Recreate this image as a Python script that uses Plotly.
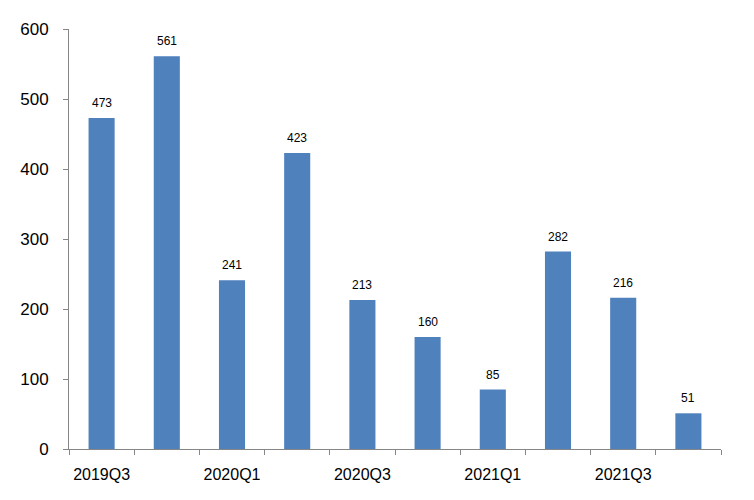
import plotly.graph_objects as go

categories = ["2019Q3", "2019Q4", "2020Q1", "2020Q2", "2020Q3",
              "2020Q4", "2021Q1", "2021Q2", "2021Q3", "2021Q4"]
values = [473, 561, 241, 423, 213, 160, 85, 282, 216, 51]
y_ticks = [0, 100, 200, 300, 400, 500, 600]

xs = list(range(len(categories)))
label_idx = xs[::2]

fig = go.Figure()
fig.add_trace(go.Bar(
    x=xs, y=values,
    marker=dict(color="#4F81BD", line=dict(width=0)),
    width=0.4,
    hoverinfo="x+y",
))

for x, v in zip(xs, values):
    fig.add_annotation(
        x=x, y=v, text=str(v), showarrow=False,
        yanchor="bottom", yshift=6,
        font=dict(family="Liberation Sans, Arial, sans-serif", size=12, color="#000000"),
    )

axis_color = "#868686"
fig.update_layout(
    width=746, height=492,
    margin=dict(l=57, r=33, t=19, b=51),
    paper_bgcolor="white", plot_bgcolor="white",
    showlegend=False,
    font=dict(family="Liberation Sans, Arial, sans-serif", color="#000000"),
    xaxis=dict(
        range=[-0.5, len(categories) - 0.5],
        tickmode="array",
        tickvals=label_idx,
        ticktext=[categories[i] for i in label_idx],
        ticks="",
        showgrid=False, zeroline=False,
        showline=True, linecolor=axis_color, linewidth=1,
        tickfont=dict(size=16),
        ticklabelstandoff=11,
        minor=dict(
            tickmode="array",
            tickvals=[i - 0.5 for i in range(len(categories) + 1)],
            ticks="outside", ticklen=5, tickcolor=axis_color, tickwidth=1,
            showgrid=False,
        ),
    ),
    yaxis=dict(
        range=[0, 600],
        tickmode="array",
        tickvals=y_ticks,
        ticks="outside", ticklen=5, tickcolor=axis_color, tickwidth=1,
        showgrid=False, zeroline=False,
        showline=True, linecolor=axis_color, linewidth=1,
        tickfont=dict(size=17),
        ticklabelstandoff=11,
    ),
)

fig.write_html("out.html")
